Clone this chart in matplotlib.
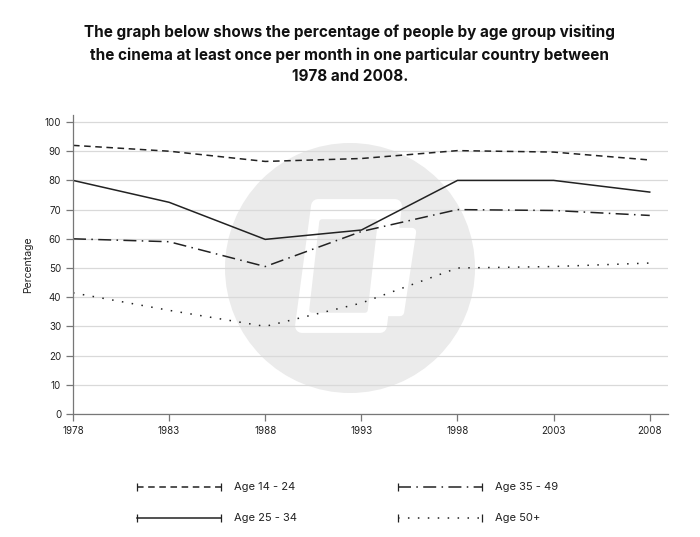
import numpy as np
import matplotlib
matplotlib.use("Agg")
import matplotlib.pyplot as plt
from matplotlib.patches import Circle, Polygon
from matplotlib.lines import Line2D

plt.rcParams['font.family'] = ['Inter', 'DejaVu Sans']

# data
years = [1978, 1983, 1988, 1993, 1998, 2003, 2008]
age_14_24 = [92, 90, 86.5, 87.5, 90.2, 89.7, 87]
age_25_34 = [80, 72.5, 59.8, 63, 80, 80, 76]
age_35_49 = [60, 59, 50.5, 62.5, 70, 69.7, 68]
age_50_up = [41.5, 35.5, 30, 38, 50, 50.5, 51.7]
labels = ["Age 14 - 24", "Age 25 - 34", "Age 35 - 49", "Age 50+"]
yticks = list(range(0, 101, 10))

W, H = 700, 537
fig = plt.figure(figsize=(7, 5.37), dpi=100)

# background layer in pixel coords (watermark + legend)
bg = fig.add_axes([0, 0, 1, 1], zorder=0)
bg.set_xlim(0, W)
bg.set_ylim(H, 0)
bg.axis('off')

wm = '#ebebeb'
bg.add_patch(Circle((350, 268), 125, color=wm, lw=0))
# rough logo shape inside the watermark
bg.add_patch(Polygon([[318, 206], [395, 206], [380, 326], [302, 326]],
                     closed=True, fc='white', ec='white', lw=10, joinstyle='round'))
bg.add_patch(Polygon([[322, 222], [375, 222], [365, 310], [312, 310]],
                     closed=True, fc=wm, ec=wm, lw=4, joinstyle='round'))
bg.add_patch(Polygon([[395, 232], [412, 232], [400, 312], [383, 312]],
                     closed=True, fc='white', ec='white', lw=6, joinstyle='round'))

ax = fig.add_axes([73 / W, 1 - 414 / H, (668 - 73) / W, (414 - 115) / H], zorder=1)
ax.patch.set_alpha(0)

styles = [
    dict(linestyle=(0, (4.3, 3.0))),
    dict(linestyle='-'),
    dict(linestyle=(0, (8.5, 3.5, 1.0, 3.5))),
    dict(linestyle=(0, (1.0, 5.5))),
]
series = [age_14_24, age_25_34, age_35_49, age_50_up]
for vals, st in zip(series, styles):
    ax.plot(years, vals, color='#222222', lw=1.1, **st)

ax.set_xlim(1978, 2008.95)
ax.set_ylim(0, 102.4)
ax.set_xticks(years)
ax.set_yticks(yticks)
ax.grid(axis='y', color='#d9d9d9', lw=0.9)
ax.set_axisbelow(True)
for s in ['top', 'right']:
    ax.spines[s].set_visible(False)
for s in ['left', 'bottom']:
    ax.spines[s].set_color('#777777')
    ax.spines[s].set_linewidth(0.9)
ax.tick_params(colors='#777777', labelcolor='#222222', labelsize=7, length=5, width=0.9)
ax.set_ylabel('Percentage', fontsize=7.5, color='#222222', labelpad=8)

fig.text(0.5, 1 - 25 / H,
         "The graph below shows the percentage of people by age group visiting\n"
         "the cinema at least once per month in one particular country between\n"
         "1978 and 2008.",
         ha='center', va='top', fontsize=11, fontweight='bold', linespacing=1.55,
         color='#111111')

# legend drawn by hand, two columns
leg_pos = [(137, 487), (137, 518), (398, 487), (398, 518)]
for (lx, ly), lab, st in zip(leg_pos, labels, styles):
    bg.add_line(Line2D([lx, lx + 84], [ly, ly], color='#222222', lw=1.1, **st))
    bg.add_line(Line2D([lx, lx + 84], [ly, ly], color='#222222', lw=0,
                       marker='|', markersize=6, markeredgewidth=0.9))
    bg.text(lx + 97, ly, lab, fontsize=8, va='center', ha='left', color='#222222')

fig.savefig('out.png', dpi=100)
